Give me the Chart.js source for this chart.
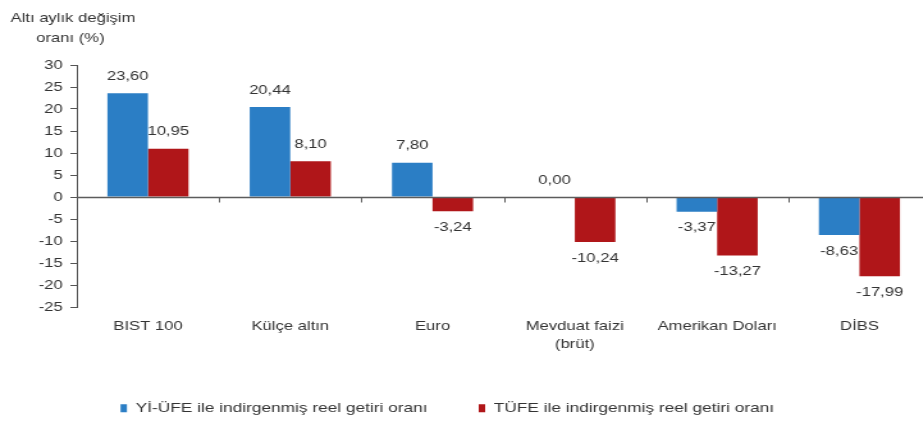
<!DOCTYPE html>
<html>
<head>
<meta charset="utf-8">
<script src="https://cdn.jsdelivr.net/npm/chart.js@4.4.1/dist/chart.umd.min.js"></script>
<style>
  html, body { margin: 0; padding: 0; background: #fff; }
  #wrap { width: 923px; height: 421px; overflow: hidden; position: relative; }
  /* the original picture is stretched sideways, so the canvas is too */
  #myChart { transform: scaleX(1.28); transform-origin: 0 0; display: block; }
</style>
</head>
<body>
<div id="wrap">
  <canvas id="myChart" width="730" height="421"></canvas>
</div>
<script>
// chart data
const categories = ["BIST 100", "Külçe altın", "Euro", ["Mevduat faizi", "(brüt)"], "Amerikan Doları", "DİBS"];
const yiUfeValues = [23.60, 20.44, 7.80, 0.00, -3.37, -8.63];
const tufeValues = [10.95, 8.10, -3.24, -10.24, -13.27, -17.99];
const seriesNames = ["Yİ-ÜFE ile indirgenmiş reel getiri oranı", "TÜFE ile indirgenmiş reel getiri oranı"];
const yTitle = ["Altı aylık değişim", "oranı (%)"];

const FONT = '"Liberation Sans", Arial, sans-serif';
const TEXT = "#333333";

//writes the axis title in the top left corner
const titlePlugin = {
  id: "cornerTitle",
  afterDraw(chart) {
    const ctx = chart.ctx;
    ctx.save();
    ctx.font = "13px " + FONT;
    ctx.fillStyle = TEXT;
    ctx.textAlign = "center";
    ctx.textBaseline = "middle";
    ctx.fillText(yTitle[0], 57, 18);
    ctx.fillText(yTitle[1], 55, 38);
    ctx.restore();
  },
};

//the legend sits a bit left of the middle in the original
const legendShiftPlugin = {
  id: "legendShift",
  afterLayout(chart) {
    chart.legend.right -= 28;
  },
};

//zero line with small marks between the categories
const zeroLinePlugin = {
  id: "zeroLine",
  afterDatasetsDraw(chart) {
    const { ctx, chartArea, scales } = chart;
    const y0 = Math.round(scales.y.getPixelForValue(0)) + 0.5;
    ctx.save();
    ctx.strokeStyle = "#5c5c5c";
    ctx.lineWidth = 1.5;
    ctx.beginPath();
    ctx.moveTo(chartArea.left, y0);
    ctx.lineTo(chartArea.right + 10, y0);
    ctx.stroke();
    ctx.lineWidth = 1;
    for (let i = 0; i < categories.length - 1; i++) {
      const x = Math.round((scales.x.getPixelForTick(i) + scales.x.getPixelForTick(i + 1)) / 2) + 0.5;
      ctx.beginPath();
      ctx.moveTo(x, y0);
      ctx.lineTo(x, y0 + 5);
      ctx.stroke();
    }
    ctx.restore();
  },
};

//value labels above / below each bar
const valueLabelPlugin = {
  id: "valueLabels",
  afterDatasetsDraw(chart) {
    const ctx = chart.ctx;
    ctx.save();
    ctx.font = "13px " + FONT;
    ctx.fillStyle = TEXT;
    ctx.textAlign = "center";
    ctx.textBaseline = "middle";
    chart.data.datasets.forEach((ds, di) => {
      const meta = chart.getDatasetMeta(di);
      meta.data.forEach((bar, i) => {
        const v = ds.data[i];
        const txt = v.toFixed(2).replace(".", ",");
        const y = v >= 0 ? bar.y - 17 : bar.y + 16;
        ctx.fillText(txt, bar.x, y);
      });
    });
    ctx.restore();
  },
};

const ctx = document.getElementById("myChart").getContext("2d");

new Chart(ctx, {
  type: "bar",
  data: {
    labels: categories,
    datasets: [
      {
        label: seriesNames[0],
        data: yiUfeValues,
        backgroundColor: "#2b7ec5",
        borderWidth: 0,
      },
      {
        label: seriesNames[1],
        data: tufeValues,
        backgroundColor: "#b01619",
        borderWidth: 0,
      },
    ],
  },
  options: {
    responsive: false,
    animation: false,
    devicePixelRatio: 1,
    categoryPercentage: 0.57,
    barPercentage: 1,
    layout: { padding: { top: 65, right: 3, left: 0, bottom: -4 } },
    scales: {
      x: {
        grid: { display: false, drawTicks: false },
        border: { display: false },
        ticks: {
          color: TEXT,
          padding: 11,
          maxRotation: 0,
          autoSkip: false,
          font: { family: FONT, size: 13, lineHeight: 1.35 },
        },
        afterFit(scale) {
          scale.height = 54.5;
        },
      },
      y: {
        min: -25,
        max: 30,
        grid: { drawOnChartArea: false, drawTicks: true, tickLength: 5, color: "#555" },
        border: { display: true, color: "#555", width: 1 },
        ticks: {
          stepSize: 5,
          color: TEXT,
          padding: 6,
          font: { family: FONT, size: 13 },
        },
        afterFit(scale) {
          scale.width = 60;
        },
      },
    },
    plugins: {
      legend: {
        display: true,
        position: "bottom",
        labels: {
          boxWidth: 5,
          boxHeight: 8,
          padding: 40,
          color: TEXT,
          font: { family: FONT, size: 13.5 },
        },
      },
      tooltip: { enabled: false },
      title: { display: false },
    },
  },
  plugins: [legendShiftPlugin, zeroLinePlugin, valueLabelPlugin, titlePlugin],
});
</script>
</body>
</html>
